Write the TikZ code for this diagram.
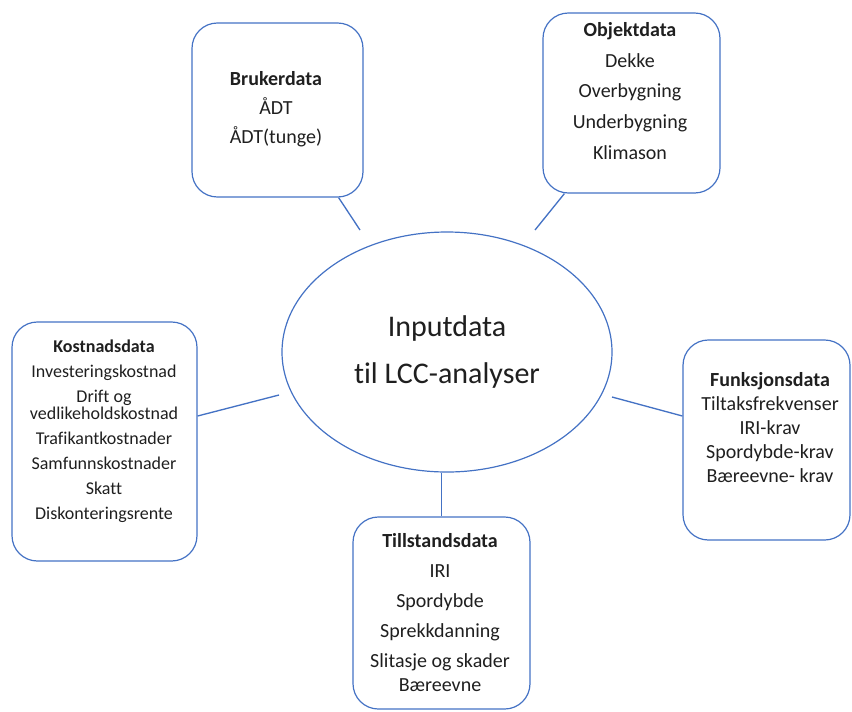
\documentclass[tikz,border=0pt]{standalone}
\usepackage{fontspec}
\setmainfont[Ligatures=NoCommon]{Carlito}
\usetikzlibrary{fit,calc,shapes.geometric}
\definecolor{obl}{HTML}{4472C4}
\definecolor{txt}{HTML}{1F1F1F}
\begin{document}
\begin{tikzpicture}[x=0.75pt,y=-0.75pt,
 boxx/.style={draw=obl, line width=0.9pt, rounded corners=19pt, inner sep=0pt},
 lbl/.style={text=txt, align=center, inner sep=0pt},
 conn/.style={draw=obl, line width=1pt}]
\useasboundingbox (0,0) rectangle (852,711);
\node[draw=obl, line width=0.9pt, ellipse, minimum width=247.5pt, minimum height=180pt, inner sep=0pt, lbl, font=\fontsize{22.5}{35}\selectfont] (ell) at (447,352) {Inputdata\\til LCC-analyser};

\node[boxx, fit={(192,23)(363,197)}] (bruk) {};
\node[lbl, font=\fontsize{15}{21.75}\selectfont] (brukt) at (276,109) {\textbf{Brukerdata}\\ÅDT\\ÅDT(tunge)};

\node[boxx, fit={(543,13)(720,193)}] (obj) {};
\node[lbl, font=\fontsize{15}{23}\selectfont] (objt) at (630,91) {\textbf{Objektdata}\\Dekke\\Overbygning\\Underbygning\\Klimason};

\node[boxx, fit={(12,322)(197,561)}] (kost) {};
\node[lbl, font=\fontsize{13.5}{18.75}\selectfont] (kostt) at (104,431) {\textbf{Kostnadsdata}\\Investeringskostnad\\Drift og\\[-6pt]vedlikeholdskostnad\\Trafikantkostnader\\Samfunnskostnader\\Skatt\\Diskonteringsrente};

\node[boxx, fit={(683,340)(850,540)}] (funk) {};
\node[lbl, font=\fontsize{15}{18}\selectfont] (funkt) at (770,427.5) {\textbf{Funksjonsdata}\\Tiltaksfrekvenser\\IRI-krav\\Spordybde-krav\\Bæreevne- krav};

\node[boxx, fit={(353,517)(530,709)}] (till) {};
\node[lbl, font=\fontsize{15}{22.5}\selectfont] (tillt) at (440,612.5) {\textbf{Tillstandsdata}\\IRI\\Spordybde\\Sprekkdanning\\Slitasje og skader\\[-4.5pt]Bæreevne};

\coordinate (e1) at (360,230);
\coordinate (e2) at (535,230);
\coordinate (e3) at (279,395);
\coordinate (e4) at (612,397);
\draw[conn] ($(bruk.south east)+(-25,0)$) -- (e1);
\draw[conn] ($(obj.south west)+(22,0)$) -- (e2);
\draw[conn] ($(kost.east)+(0,-25.5)$) -- (e3);
\draw[conn] ($(funk.west)+(0,-24)$) -- (e4);
\draw[conn] (till.north) -- (till.north |- ell.south);
\end{tikzpicture}
\end{document}
